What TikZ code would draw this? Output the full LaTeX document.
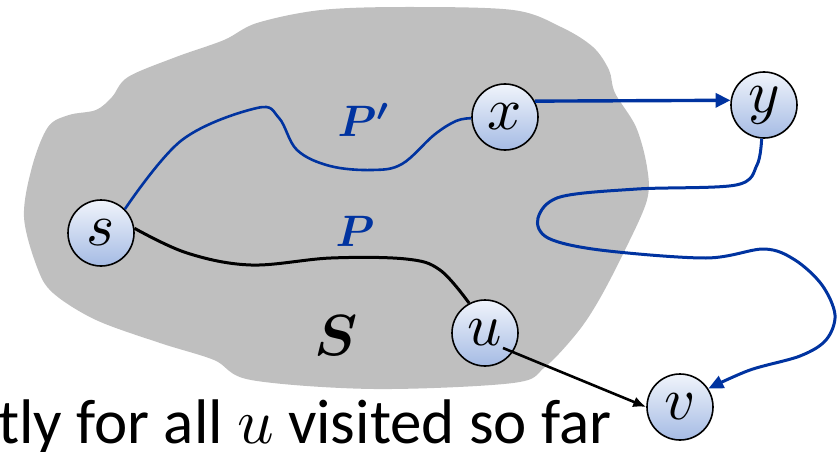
\documentclass[tikz,border=0pt]{standalone}
\usepackage{bm}
\usepackage{fontspec}
\setmainfont{Carlito}
\usetikzlibrary{arrows.meta,calc}
\definecolor{lineblue}{RGB}{0,51,160}
\definecolor{blobgray}{RGB}{191,191,191}
\definecolor{ntop}{RGB}{240,244,251}
\definecolor{nbot}{RGB}{165,187,228}
\newcommand{\scmath}[2]{\scalebox{#1}{\fontsize{10}{12}\selectfont$#2$}}
\tikzset{
  vnode/.style={circle, draw=black, line width=1.6pt, minimum size=66pt, inner sep=0pt,
    top color=ntop, bottom color=nbot},
  bluepath/.style={draw=lineblue, line width=3pt},
  blackpath/.style={draw=black, line width=3pt},
  lbl/.style={inner sep=0pt}
}
\begin{document}
\begin{tikzpicture}[x=1pt,y=-1pt]
\useasboundingbox (0,0) rectangle (838,452);
% blob
\fill[blobgray] plot[smooth cycle, tension=0.55] coordinates {
 (406,7) (513,10) (561,27) (593,47) (609,70) (615,93) (636,127) (647,167) (647,200)
 (625,250) (599,300) (577,333) (545,367) (513,383) (374,389) (251,380) (214,360)
 (160,343) (96,320) (53,293) (37,267) (24,217) (32,167) (48,127) (69,115) (96,110)
 (112,97) (128,77) (176,57) (224,40) (257,23) (321,10)};
% bottom text
\node[lbl, anchor=base west, font=\fontsize{63}{63}\selectfont] (txt) at (-2,443) {tly for all \scmath{6.4}{u} visited so far};
% nodes
\node[vnode] (s) at (101,233) {\scmath{6}{s}};
\node[vnode] (x) at (505,117) {\scmath{6}{x}};
\node[vnode] (y) at (764,105) {\scmath{6}{y}};
\node[vnode] (u) at (485,333) {\scmath{6}{u}};
\node[vnode] (v) at (680,407) {\scmath{6}{v}};
% labels
\node[lbl, text=lineblue] (pp) at (364,120) {\scmath{4.4}{\bm{P}^{\bm{\prime}}}};
\node[lbl, text=lineblue] (p) at (355,231) {\scmath{4.4}{\bm{P}}};
\node[lbl] (S) at (336,336) {\scmath{5.8}{\bm{S}}};
% P'
\draw[bluepath, line width=2.6pt] plot[smooth, tension=0.6] coordinates {
 (s.45) (182,140) (257,108) (279,118) (297,150) (330,166) (372,170) (402,164) (434,135) (456,121) (x.182)};
% P
\draw[blackpath] plot[smooth, tension=0.6] coordinates {
 (s.8) (187,253) (251,265) (331,258) (406,259) (440,270) (u.118)};
% x -> y
\draw[bluepath, line width=3.4pt, -{Triangle[length=15pt,width=14pt]}] (x.28) -- (y.172);
% y -> v
\draw[bluepath, -{Triangle[length=15pt,width=13pt]}] plot[smooth, tension=0.55] coordinates {
 (y.266) (757,165) (736,185) (637,189) (560,197) (538,218) (548,238) (600,250)
 (706,258) (764,249) (795,260) (822,285) (835,315) (826,340) (800,356) (750,370) (v.33)};
% u -> v
\coordinate (ustart) at ($(u.center)+(18,15)$);
\draw[blackpath, line width=2.6pt, -{Latex[length=13pt,width=11pt]}] (ustart) -- (v.west);
\end{tikzpicture}
\end{document}
